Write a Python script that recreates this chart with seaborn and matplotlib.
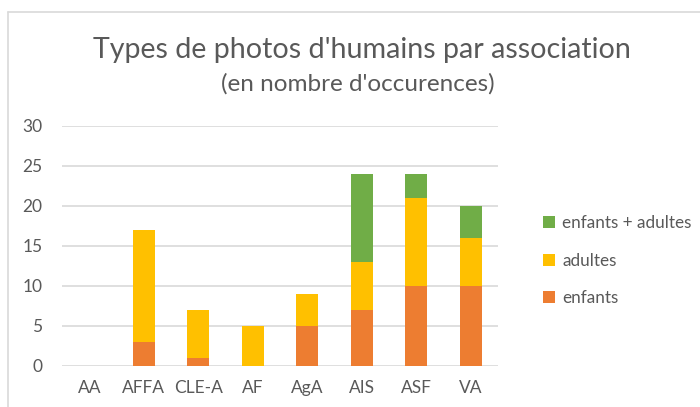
import matplotlib
matplotlib.use("Agg")
import matplotlib.pyplot as plt
import seaborn as sns
import numpy as np
import pandas as pd
from matplotlib.patches import Patch
from matplotlib.lines import Line2D

categories = ["AA", "AFFA", "CLE-A", "AF", "AgA", "AIS", "ASF", "VA"]
enfants = [0, 3, 1, 0, 5, 7, 10, 10]
adultes = [0, 14, 6, 5, 4, 6, 11, 6]
enfants_adultes = [0, 0, 0, 0, 0, 11, 3, 4]
series_names = ["enfants", "adultes", "enfants + adultes"]
colors = ["#ED7D31", "#FFC000", "#70AD47"]
yticks = [0, 5, 10, 15, 20, 25, 30]

sns.set_theme(style="white")
plt.rcParams['font.family'] = ['Lato', 'DejaVu Sans']

fig = plt.figure(figsize=(7, 4.07), dpi=100)
ax = fig.add_axes([62/700, 1-366/407, 436/700, 240/407])

e = np.array(enfants)
a = np.array(adultes)
ea = np.array(enfants_adultes)
layers = [e + a + ea, e + a, e]
layer_colors = [colors[2], colors[1], colors[0]]
for vals, c in zip(layers, layer_colors):
    df = pd.DataFrame({"cat": categories, "val": vals})
    sns.barplot(data=df, x="cat", y="val", color=c, width=0.4, ax=ax,
                saturation=1, edgecolor="none", linewidth=0, zorder=3)

ax.set_ylim(0, 30)
ax.set_xlim(-0.5, 7.5)
ax.set_yticks(yticks)
ax.yaxis.grid(True, color="#D9D9D9", linewidth=1.2, zorder=0)
ax.set_axisbelow(True)
for s in ax.spines.values():
    s.set_visible(False)
ax.set_xlabel("")
ax.set_ylabel("")
ax.tick_params(axis="both", length=0, colors="#595959", labelsize=12.5)
ax.tick_params(axis="y", pad=14)
ax.tick_params(axis="x", pad=10)

handles = [Patch(facecolor=colors[i], edgecolor="none") for i in [2, 1, 0]]
labels = [series_names[i] for i in [2, 1, 0]]
leg = fig.legend(handles, labels, loc="upper left", bbox_to_anchor=(528/700, 1-200/407),
                 frameon=False, fontsize=12.3, handlelength=0.7, handleheight=0.7,
                 handletextpad=0.4, labelspacing=1.25, labelcolor="#595959")

fig.text(362/700, 1-50/407, "Types de photos d'humains par association", ha="center",
         va="center", fontsize=20.6, color="#595959")
fig.text(358/700, 1-84/407, "(en nombre d'occurences)", ha="center", va="center",
         fontsize=17.5, color="#595959")

fig.add_artist(Line2D([8/700, 8/700], [0, 1-12/407], transform=fig.transFigure,
                      color="#D9D9D9", linewidth=1.2))
fig.add_artist(Line2D([8/700, 1], [1-12/407, 1-12/407], transform=fig.transFigure,
                      color="#D9D9D9", linewidth=1.2))

fig.savefig("out.png", dpi=100)
